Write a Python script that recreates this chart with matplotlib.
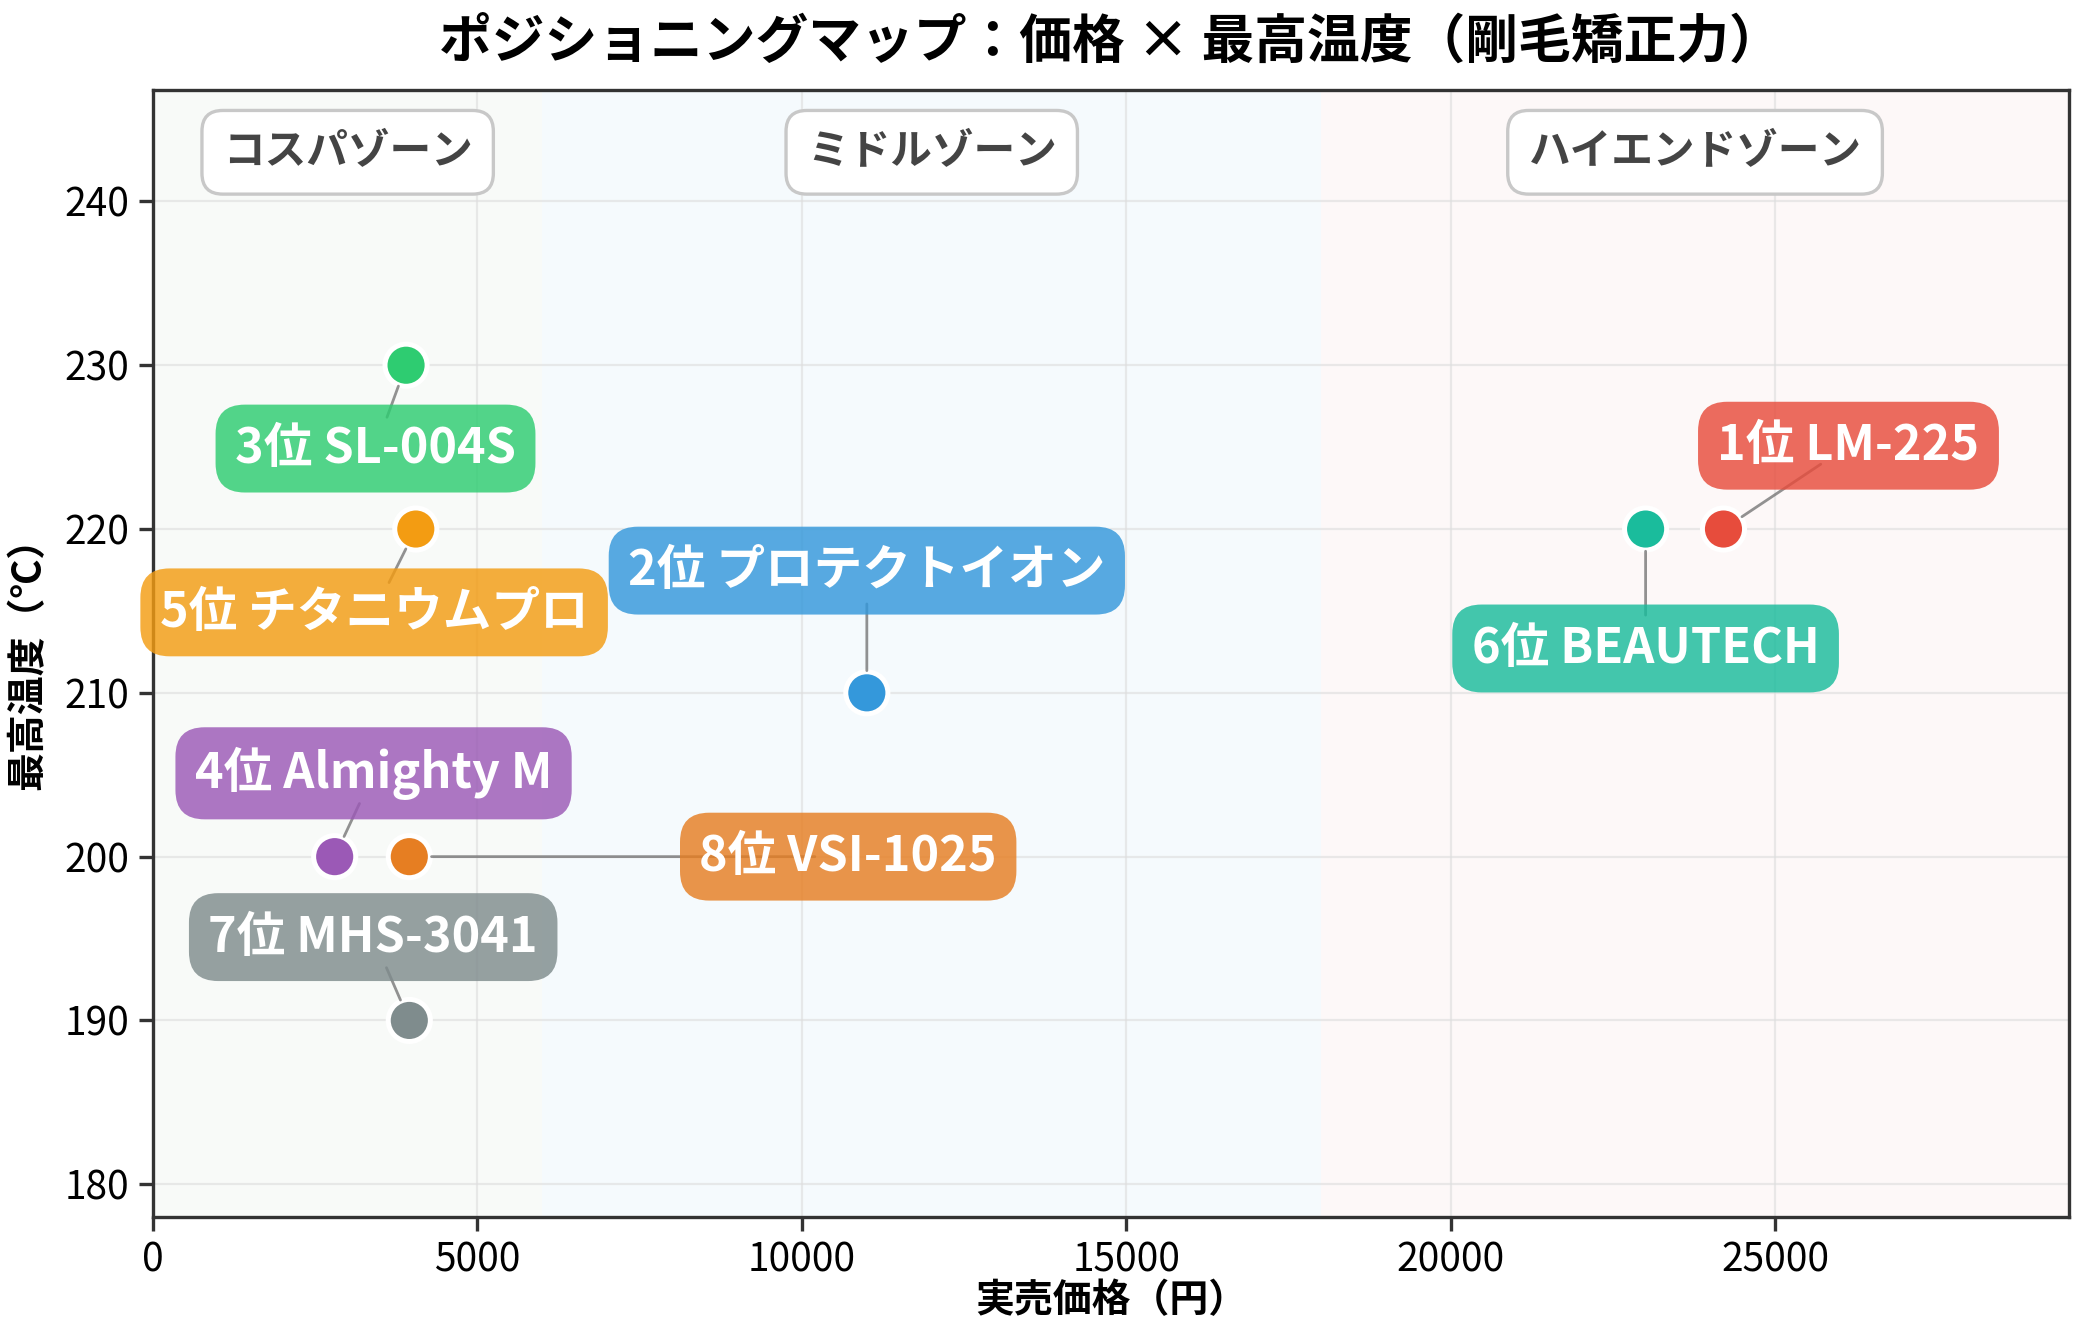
import matplotlib
matplotlib.use("Agg")
import matplotlib.pyplot as plt

plt.rcParams["font.family"] = ["Noto Sans CJK JP", "DejaVu Sans"]

# data
names = ["1位 LM-225", "2位 プロテクトイオン", "3位 SL-004S", "4位 Almighty M",
         "5位 チタニウムプロ", "6位 BEAUTECH", "7位 MHS-3041", "8位 VSI-1025"]
prices = [24200, 11000, 3900, 2800, 4050, 23000, 3950, 3950]
temps = [220, 210, 230, 200, 220, 220, 190, 200]
colors = ["#e74c3c", "#3498db", "#2ecc71", "#9b59b6",
          "#f39c12", "#1abc9c", "#7f8c8d", "#e67e22"]

zone_names = ["コスパゾーン", "ミドルゾーン", "ハイエンドゾーン"]
zone_edges = [0, 6000, 18000]
zone_fills = ["#f8faf8", "#f5fafd", "#fdf8f8"]

# label offsets (points) for each annotation
label_offsets = [(45, 30), (0, 44), (-11, -30), (14, 30),
                 (-15, -30), (0, -43), (-13, 30), (158, 0)]

x_max = max(prices) * 1.22

fig, ax = plt.subplots(figsize=(10.42, 6.67), dpi=200)
fig.subplots_adjust(left=0.0734, right=0.9928, top=0.9325, bottom=0.0877)

edges = zone_edges + [x_max]
for i, zc in enumerate(zone_fills):
    ax.axvspan(edges[i], edges[i + 1], color=zc, lw=0, zorder=0)
    ax.text((edges[i] + edges[i + 1]) / 2, 243.0, zone_names[i],
            ha="center", va="center", fontsize=15, fontweight="bold", color="#444444",
            bbox=dict(boxstyle="round,pad=0.5", fc="white", ec="#c8c8c8", lw=1.2),
            zorder=5)

ax.grid(True, color="#dddddd", alpha=0.6, lw=0.8, zorder=1)
ax.set_axisbelow(True)

ax.scatter(prices, temps, s=230, c=colors, edgecolors="white", linewidths=1.8, zorder=4)

for name, px, t, c, off in zip(names, prices, temps, colors, label_offsets):
    ax.annotate(name, (px, t), xytext=off, textcoords="offset points",
                ha="center", va="center", fontsize=17.5, fontweight="bold", color="white",
                bbox=dict(boxstyle="round,pad=0.4,rounding_size=0.6", fc=c, ec="none", alpha=0.82),
                arrowprops=dict(arrowstyle="-", color="#777777", lw=1.0, alpha=0.8,
                                patchA=None, shrinkA=12, shrinkB=8),
                zorder=6)

ax.set_xlim(0, x_max)
ax.set_ylim(178, 246.8)
ax.set_xticks([0, 5000, 10000, 15000, 20000, 25000])
ax.set_yticks([180, 190, 200, 210, 220, 230, 240])
ax.tick_params(labelsize=14, length=5, width=1.2, color="#333333")

for sp in ax.spines.values():
    sp.set_color("#333333")
    sp.set_linewidth(1.2)

ax.set_xlabel("実売価格（円）", fontsize=14, fontweight="bold", labelpad=0)
ax.set_ylabel("最高温度（℃）", fontsize=14, fontweight="bold", labelpad=6)
fig.text(0.533, 0.9685, "ポジショニングマップ：価格 × 最高温度（剛毛矯正力）",
         ha="center", va="center", fontsize=19, fontweight="bold")

fig.savefig("out.png", dpi=200)
plt.close(fig)
